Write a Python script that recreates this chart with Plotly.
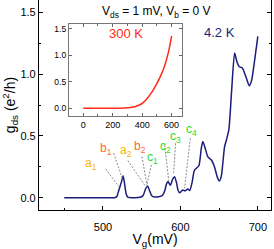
import plotly.graph_objects as go

# ---- main curve, 4.2 K ----
vg_mv = [450, 470, 490, 505, 515, 518, 520, 522.5, 524, 526, 528, 530, 532, 540, 548, 552, 555, 557.5,
         560, 563, 567, 572, 577, 580, 582, 584, 587, 590, 592.5, 595, 597, 599, 601, 603, 606, 609.5,
         612, 615, 618, 621, 624, 627, 629, 632, 635.5, 640, 644, 648, 650.5, 653, 657, 660, 662.6,
         666, 670, 673, 676, 680, 685, 689, 692, 696, 700]
g_42k = [0, 0, 0, 0, 0, 0.01, 0.05, 0.10, 0.13, 0.178, 0.11, 0.03, 0.005, 0, 0.003, 0.02, 0.07, 0.095,
         0.06, 0.015, 0.005, 0.008, 0.02, 0.06, 0.11, 0.13, 0.10, 0.15, 0.17, 0.12, 0.06, 0.04, 0.05, 0.062,
         0.054, 0.07, 0.057, 0.12, 0.22, 0.24, 0.26, 0.40, 0.454, 0.40, 0.33, 0.305, 0.25, 0.16, 0.135,
         0.18, 0.41, 0.48, 0.55, 0.85, 1.17, 1.10, 1.06, 1.05, 0.97, 0.905, 0.95, 1.12, 1.305]

# ---- inset curve, 300 K ----
vg_300 = [0, 100, 200, 250, 300, 350, 400, 430, 460, 490, 520, 550, 560, 580, 600]
g_300k = [0, 0, 0, 0.002, 0.01, 0.03, 0.09, 0.17, 0.28, 0.42, 0.58, 0.78, 0.87, 1.08, 1.37]

# ---- peak labels ----
lbl_text = ["a<sub>1</sub>", "b<sub>1</sub>", "a<sub>2</sub>", "b<sub>2</sub>",
            "c<sub>1</sub>", "c<sub>2</sub>", "c<sub>3</sub>", "c<sub>4</sub>"]
lbl_color = ["#f7b500", "#ff6a33", "#f7b500", "#ff6a33",
             "#22dd22", "#22dd22", "#22dd22", "#22dd22"]
lbl_x = [484.5, 503.5, 529.3, 547.3, 564.1, 580.9, 593.8, 614.4]
lbl_y = [0.27, 0.39, 0.38, 0.41, 0.32, 0.41, 0.49, 0.55]
line_x0 = [503.5, 513.8, 532.2, 550.3, 562.4, 579.6, 593.8, 612.8]
line_y0 = [0.233, 0.36, 0.30, 0.332, 0.265, 0.427, 0.44, 0.48]
line_x1 = [520.6, 525.0, 555.1, 556.8, 556.8, 585.1, 591.2, 605.4]
line_y1 = [0.089, 0.157, 0.089, 0.103, 0.103, 0.13, 0.198, 0.076]

main_xticks = [500, 600, 700]
main_yticks = [0.0, 0.5, 1.0, 1.5]
inset_xticks = [0, 200, 400, 600]
inset_yticks = [0.0, 0.5, 1.0, 1.5]

FONT = "Liberation Sans, Arial, sans-serif"

fig = go.Figure()
fig.add_trace(go.Scatter(x=vg_mv, y=g_42k, mode="lines", xaxis="x", yaxis="y",
                         line=dict(color="#1c1c7a", width=1.5, shape="spline", smoothing=0.6),
                         showlegend=False))
fig.add_trace(go.Scatter(x=vg_300, y=g_300k, mode="lines", xaxis="x2", yaxis="y2",
                         line=dict(color="#ff2a1a", width=1.5, shape="spline", smoothing=0.8),
                         showlegend=False))

annotations = []
shapes = []
for t, c, x, y in zip(lbl_text, lbl_color, lbl_x, lbl_y):
    annotations.append(dict(x=x, y=y, xref="x", yref="y", text=t, showarrow=False,
                            font=dict(family=FONT, size=12, color=c),
                            xanchor="center", yanchor="middle"))
for x0, y0, x1, y1 in zip(line_x0, line_y0, line_x1, line_y1):
    shapes.append(dict(type="line", xref="x", yref="y", x0=x0, y0=y0, x1=x1, y1=y1,
                       line=dict(color="#8a8a8a", width=1, dash="2px,1.5px")))

annotations.append(dict(x=568.9, y=1.505, xref="x", yref="y",
                        text="V<sub>ds</sub> = 1 mV, V<sub>b</sub> = 0 V", showarrow=False,
                        font=dict(family=FONT, size=12, color="black"),
                        xanchor="center", yanchor="middle"))
annotations.append(dict(x=650.8, y=1.335, xref="x", yref="y", text="4.2 K", showarrow=False,
                        font=dict(family=FONT, size=13, color="#1c1c7a"),
                        xanchor="center", yanchor="middle"))
annotations.append(dict(x=288, y=1.42, xref="x2", yref="y2", text="300 K", showarrow=False,
                        font=dict(family=FONT, size=13, color="#ff2a1a"),
                        xanchor="center", yanchor="middle"))

fig.update_layout(
    width=274, height=249,
    margin=dict(l=39, r=3, t=0, b=39),
    paper_bgcolor="white", plot_bgcolor="white",
    font=dict(family=FONT, color="black"),
    annotations=annotations, shapes=shapes,
    xaxis=dict(domain=[0, 1], range=[417.4, 717], tickvals=main_xticks,
               ticks="inside", ticklen=4, tickcolor="black", showline=True, linecolor="black",
               linewidth=1.2, mirror=False, showgrid=False, zeroline=False,
               tickfont=dict(size=11), ticklabelstandoff=7,
               minor=dict(dtick=50, tick0=0, ticks="inside", ticklen=2, tickcolor="black"),
               title=dict(text="V<sub>g</sub>(mV)", font=dict(size=14), standoff=2)),
    yaxis=dict(domain=[0, 1], range=[-0.1, 1.6], tickvals=main_yticks, tickformat=".1f",
               ticks="inside", ticklen=4, tickcolor="black", showline=True, linecolor="black",
               linewidth=1.2, mirror="allticks", showgrid=False, zeroline=False,
               tickfont=dict(size=11),
               minor=dict(dtick=0.25, tick0=0, ticks="inside", ticklen=2, tickcolor="black"),
               title=dict(text="g<sub>ds</sub> (e<sup>2</sup>/h)", font=dict(size=14), standoff=2)),
    xaxis2=dict(domain=[0.129, 0.618], range=[-97, 673], anchor="y2", tickvals=inset_xticks,
                ticks="inside", ticklen=3, tickcolor="#666", showline=True, linecolor="#777",
                linewidth=1.2, mirror="allticks", showgrid=False, zeroline=False,
                tickfont=dict(size=9),
                minor=dict(dtick=100, tick0=0, ticks="inside", ticklen=2, tickcolor="#666")),
    yaxis2=dict(domain=[0.448, 0.886], range=[-0.145, 1.595], anchor="x2", tickvals=inset_yticks,
                tickformat=".1f", ticks="inside", ticklen=3, tickcolor="#666", showline=True,
                linecolor="#777", linewidth=1.2, mirror="allticks", showgrid=False,
                zeroline=False, tickfont=dict(size=8.5)),
)

fig.write_html("out.html", config={"displayModeBar": False},
               post_script="document.body.style.margin='0';document.body.style.overflow='hidden';")
